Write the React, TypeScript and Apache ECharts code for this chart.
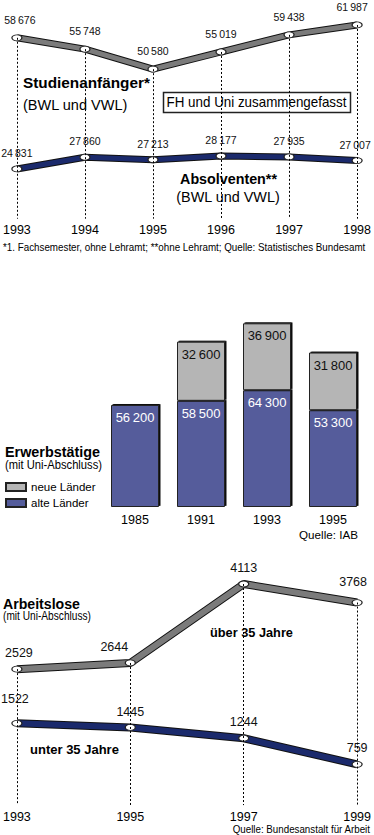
import React, { useEffect, useRef } from "react";
import * as echarts from "echarts";

// ---- Chart 1: Studienanfänger / Absolventen ----
const years1 = ["1993", "1994", "1995", "1996", "1997", "1998"];
const studienanfaenger = [58676, 55748, 50580, 55019, 59438, 61987];
const absolventen = [24831, 27860, 27213, 28177, 27935, 27007];

// ---- Chart 2: Erwerbstätige ----
const years2 = ["1985", "1991", "1993", "1995"];
const alteLaender = [56200, 58500, 64300, 53300];
const neueLaender = [null, 32600, 36900, 31800];

// ---- Chart 3: Arbeitslose ----
const years3 = ["1993", "1995", "1997", "1999"];
const ueber35 = [2529, 2644, 4113, 3768];
const unter35 = [1522, 1445, 1244, 759];

const SANS = "'Liberation Sans',Arial,Helvetica,sans-serif";

const fmt = (v: number) =>
  v >= 10000 ? String(v).replace(/\B(?=(\d{3})+(?!\d))/g, "\u2009") : String(v);

const ELLIPSE = "path://M0,5a5,5 0 1,0 10,0a5,5 0 1,0 -10,0z";
const GRAY = "#7b7b7b";
const NAVY = "#1b2a6c";

let measureCtx: CanvasRenderingContext2D | null = null;
function measure(text: string, font: string) {
  if (!measureCtx) measureCtx = document.createElement("canvas").getContext("2d");
  if (!measureCtx) return 0;
  measureCtx.font = font;
  return measureCtx.measureText(text).width;
}

function lineMain(name: string, data: number[], idx: number, color: string, width: number, label: any, offsets?: any[]) {
  return {
    name,
    type: "line",
    xAxisIndex: idx,
    yAxisIndex: idx,
    data: data.map((v, i) => ({
      value: v,
      label: offsets && offsets[i] ? { offset: offsets[i] } : undefined,
    })),
    z: 3,
    symbol: ELLIPSE,
    symbolSize: [10, 6],
    lineStyle: { color, width },
    itemStyle: { color: "#fff", borderColor: "#222", borderWidth: 1 },
    label: {
      show: true,
      position: "top",
      color: "#111",
      fontFamily: SANS,
      formatter: (p: any) => fmt(p.value),
      ...label,
    },
    silent: true,
  };
}

function lineOutline(data: number[], idx: number, width: number) {
  return {
    type: "line",
    xAxisIndex: idx,
    yAxisIndex: idx,
    data,
    z: 2,
    symbol: "none",
    lineStyle: { color: "#111", width },
    silent: true,
  };
}

function dropLines(data: number[], cats: string[], idx: number, bottom: number) {
  return {
    type: "line",
    xAxisIndex: idx,
    yAxisIndex: idx,
    data: [],
    z: 1,
    silent: true,
    markLine: {
      silent: true,
      symbol: ["none", "none"],
      label: { show: false },
      lineStyle: { type: [2, 2], color: "#000", width: 1 },
      data: data.map((v, i) => [{ coord: [cats[i], v] }, { coord: [cats[i], bottom] }]),
    },
  };
}

const catAxis = (idx: number, data: string[], boundaryGap: boolean, margin: number) => ({
  type: "category",
  gridIndex: idx,
  data,
  boundaryGap,
  axisLine: { show: false },
  axisTick: { show: false },
  axisLabel: { color: "#000", fontFamily: SANS, fontSize: 12.5, margin },
});

const valAxis = (idx: number, min: number, max: number) => ({
  type: "value",
  gridIndex: idx,
  min,
  max,
  show: false,
  splitLine: { show: false },
});

// text squeezed horizontally to a given width (the original uses a condensed face)
function fit(x: number, y: number, text: string, font: string, width: number, align = "left") {
  const w = measure(text, font);
  const s = w > 0 ? width / w : 1;
  return {
    type: "text",
    x,
    y,
    scaleX: s,
    silent: true,
    style: { text, font, fill: "#000", textAlign: align, textVerticalAlign: "middle" },
  };
}

const barItem = (color: string) => ({
  color,
  borderColor: "#222",
  borderWidth: 1,
  shadowColor: "rgba(0,0,0,0.95)",
  shadowBlur: 0,
  shadowOffsetX: 1.5,
  shadowOffsetY: -1,
});

export default function App() {
  const ref = useRef<HTMLDivElement>(null);
  useEffect(() => {
    if (!ref.current) return;
    const chart = echarts.init(ref.current, undefined, { renderer: "svg" });
    const option: any = {
      animation: false,
      grid: [
        { left: 16, top: 13.3, width: 342, height: 205.4 },
        { left: 102, top: 307.35, width: 264, height: 199.65 },
        { left: 16, top: 563.2, width: 342, height: 241.9 },
      ],
      xAxis: [catAxis(0, years1, false, 5), catAxis(1, years2, true, 6), catAxis(2, years3, false, 5)],
      yAxis: [valAxis(0, 12000, 65000), valAxis(1, 0, 110000), valAxis(2, 0, 4500)],
      legend: {
        data: ["neue Länder", "alte Länder"],
        orient: "vertical",
        left: 5,
        top: 480,
        padding: 0,
        itemWidth: 20,
        itemHeight: 8,
        itemGap: 2,
        icon: "rect",
        selectedMode: false,
        textStyle: { fontFamily: SANS, fontSize: 11.5, color: "#000", lineHeight: 14 },
      },
      series: [
        // chart 1
        dropLines(studienanfaenger, years1, 0, 12000),
        lineOutline(studienanfaenger, 0, 7),
        lineMain("Studienanfänger", studienanfaenger, 0, GRAY, 5, { fontSize: 10.5, distance: 9 },
          [[3, 0], null, null, null, null, [-5, 0]]),
        lineOutline(absolventen, 0, 7),
        lineMain("Absolventen", absolventen, 0, NAVY, 5, { fontSize: 10.5, distance: 7 },
          [null, null, null, null, null, [-2, 0]]),
        // chart 2
        {
          name: "alte Länder",
          type: "bar",
          xAxisIndex: 1,
          yAxisIndex: 1,
          stack: "erw",
          data: alteLaender,
          barWidth: 48,
          itemStyle: barItem("#545c9b"),
          label: {
            show: true,
            position: "insideTop",
            distance: 6,
            color: "#fff",
            fontFamily: SANS,
            fontSize: 13,
            formatter: (p: any) => fmt(p.value),
          },
          silent: true,
        },
        {
          name: "neue Länder",
          type: "bar",
          xAxisIndex: 1,
          yAxisIndex: 1,
          stack: "erw",
          data: neueLaender.map((v) => (v == null ? "-" : v)),
          barWidth: 48,
          itemStyle: barItem("#b5b5b5"),
          label: {
            show: true,
            position: "insideTop",
            distance: 6,
            color: "#111",
            fontFamily: SANS,
            fontSize: 13,
            formatter: (p: any) => fmt(p.value),
          },
          silent: true,
        },
        // chart 3
        dropLines(ueber35, years3, 2, 0),
        lineOutline(ueber35, 2, 8),
        lineMain("über 35 Jahre", ueber35, 2, GRAY, 6, { fontSize: 12.5, distance: 6 },
          [[2, 0], [-16, 0], null, [-4, -5]]),
        lineOutline(unter35, 2, 8),
        lineMain("unter 35 Jahre", unter35, 2, NAVY, 6, { fontSize: 12.5, distance: 6 },
          [[-2, -8], null, null, null]),
      ],
      graphic: [
        fit(23, 83, "Studienanfänger*", `bold 15px ${SANS}`, 127),
        fit(23, 105, "(BWL und VWL)", `15px ${SANS}`, 105),
        {
          type: "rect",
          silent: true,
          shape: { x: 163.5, y: 92.5, width: 187, height: 20 },
          style: { fill: "#fff", stroke: "#222", lineWidth: 1.5 },
        },
        fit(256.5, 102.5, "FH und Uni zusammengefasst", `14px ${SANS}`, 180, "center"),
        fit(228.5, 179, "Absolventen**", `bold 15px ${SANS}`, 97, "center"),
        fit(228, 197, "(BWL und VWL)", `15px ${SANS}`, 104, "center"),
        fit(3, 247, "*1. Fachsemester, ohne Lehramt; **ohne Lehramt; Quelle: Statistisches Bundesamt", `11px ${SANS}`, 363),
        fit(5, 451, "Erwerbstätige", `bold 15.5px ${SANS}`, 95),
        fit(5, 465, "(mit Uni-Abschluss)", `13px ${SANS}`, 97),
        fit(328.5, 535, "Quelle: IAB", `11px ${SANS}`, 59, "center"),
        fit(3, 604, "Arbeitslose", `bold 14px ${SANS}`, 77),
        fit(3, 616, "(mit Uni-Abschluss)", `12px ${SANS}`, 88),
        fit(210, 632, "über 35 Jahre", `bold 13px ${SANS}`, 83),
        fit(30, 750, "unter 35 Jahre", `bold 13px ${SANS}`, 89),
        fit(370, 829, "Quelle: Bundesanstalt für Arbeit", `11px ${SANS}`, 138, "right"),
      ],
    };
    chart.setOption(option);
    return () => chart.dispose();
  }, []);
  return (
    <div
      ref={ref}
      style={{ position: "absolute", left: 0, top: 0, width: 374, height: 835, background: "#fff" }}
    />
  );
}
